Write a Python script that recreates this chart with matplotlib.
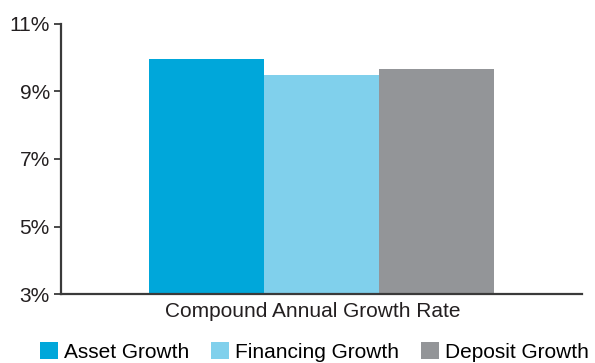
import matplotlib.pyplot as plt
from matplotlib.patches import Patch

plt.rcParams['font.family'] = ['Liberation Sans', 'DejaVu Sans']

# compound annual growth, percent
category = 'Compound Annual Growth Rate'
series = ['Asset Growth', 'Financing Growth', 'Deposit Growth']
values = [9.96, 9.49, 9.67]
colors = ['#00A7DA', '#80D0EC', '#939598']
yticks = [3, 5, 7, 9, 11]

fig = plt.figure(figsize=(5.95, 3.63), dpi=100)
ax = fig.add_axes([0.1025, 0.19, 0.8755, 0.744])

width = 0.2207
offsets = [-width, 0, width]
for v, c, off in zip(values, colors, offsets):
    ax.bar(off, v - 3, width=width, bottom=3, color=c, edgecolor='none')

ax.set_xlim(-0.5, 0.5)
ax.set_ylim(3, 11)
ax.set_yticks(yticks)
ax.set_yticklabels([f'{t}%' for t in yticks], fontsize=15, color='#231F20')
ax.set_xticks([-0.017])
ax.set_xticklabels([category], fontsize=15, color='#231F20')
ax.tick_params(axis='x', length=0, pad=6)
ax.tick_params(axis='y', length=5, width=1.3, color='#3A3A3A', pad=3)

for s in ['top', 'right']:
    ax.spines[s].set_visible(False)
for s in ['left', 'bottom']:
    ax.spines[s].set_color('#3A3A3A')
    ax.spines[s].set_linewidth(1.6)

handles = [Patch(facecolor=c, edgecolor='none', label=s) for s, c in zip(series, colors)]
fig.legend(handles=handles, loc='lower left', bbox_to_anchor=(40 / 595, 0.004),
           ncol=3, frameon=False, fontsize=15, handlelength=0.85, handleheight=0.85,
           handletextpad=0.3, columnspacing=1.05, borderpad=0, borderaxespad=0)

fig.savefig('out.png', dpi=100)
